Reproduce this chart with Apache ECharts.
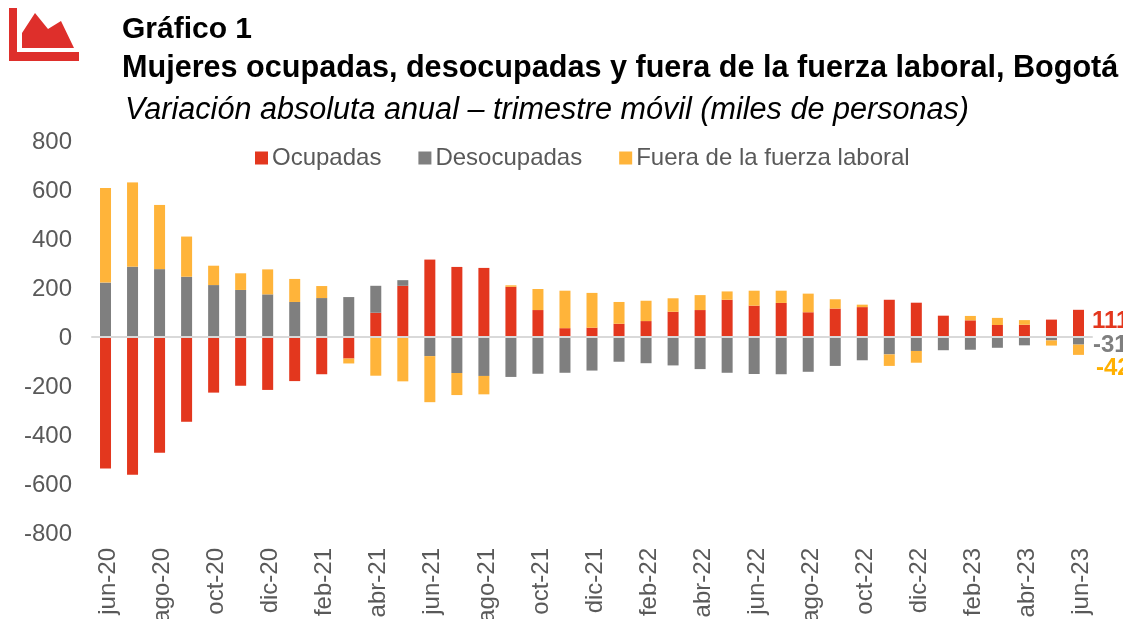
<!DOCTYPE html>
<html>
<head>
<meta charset="utf-8">
<style>
  html, body { margin: 0; padding: 0; background: #fff; overflow: hidden; }
  #chart { width: 1123px; height: 619px; }
</style>
<script src="https://cdn.jsdelivr.net/npm/echarts@6/dist/echarts.min.js"></script>
</head>
<body>
<div id="chart"></div>
<script>
const categories = [
  "jun-20","jul-20","ago-20","sep-20","oct-20","nov-20","dic-20",
  "ene-21","feb-21","mar-21","abr-21","may-21","jun-21","jul-21","ago-21","sep-21","oct-21","nov-21","dic-21",
  "ene-22","feb-22","mar-22","abr-22","may-22","jun-22","jul-22","ago-22","sep-22","oct-22","nov-22","dic-22",
  "ene-23","feb-23","mar-23","abr-23","may-23","jun-23"
]
const ocupadas = [
  -537,-562,-472,-346,-227,-199,-216,-180,-152,-88,99,209,316,286,282,205,110,36,38,
  54,65,103,110,152,128,139,101,116,122,152,140,87,68,49,50,71,111
]
const desocupadas = [
  222,287,277,246,212,192,174,143,159,163,110,23,-78,-147,-159,-163,-150,-146,-137,
  -101,-107,-116,-131,-146,-151,-152,-142,-118,-95,-71,-57,-54,-52,-44,-34,-14,-31
]
const fueraFuerza = [
  386,344,262,164,79,68,102,94,49,-20,-158,-181,-188,-90,-75,6,86,153,142,
  89,83,55,61,34,61,50,76,38,10,-47,-48,0,18,29,19,-21,-42
]
const yTicks = { min: -800, max: 800, step: 200 }

const RED = "#E3371E"
const GRAY = "#7F7F7F"
const ORANGE = "#FFB43A"
const FONT = '"Liberation Sans", Arial, sans-serif'
const TEXT = "#595959"

// solo el ultimo mes lleva etiqueta
function withEndLabel(values, color, offset) {
  return values.map((v, i) => {
    if (i !== values.length - 1) return v
    return {
      value: v,
      label: {
        show: true,
        position: "right",
        distance: 7,
        offset: offset,
        color: color,
        fontFamily: FONT,
        fontSize: 24,
        fontWeight: "bold",
      },
    }
  })
}

function barSeries(name, values, color, labelColor, offset) {
  return {
    name: name,
    type: "bar",
    stack: "total",
    barWidth: 11,
    itemStyle: { color: color },
    data: withEndLabel(values, labelColor, offset),
  }
}

const chart = echarts.init(document.getElementById("chart"), null, { renderer: "canvas" })

chart.setOption({
  animation: false,
  backgroundColor: "#fff",
  title: [
    { text: "Gráfico 1", left: 117, top: 10, textStyle: { fontFamily: FONT, fontSize: 30, fontWeight: "bold", color: "#000" } },
    { text: "Mujeres ocupadas, desocupadas y fuera de la fuerza laboral, Bogotá", left: 117, top: 48, textStyle: { fontFamily: FONT, fontSize: 30.6, fontWeight: "bold", color: "#000" } },
    { text: "Variación absoluta anual – trimestre móvil (miles de personas)", left: 120, top: 90, textStyle: { fontFamily: FONT, fontSize: 30.6, fontStyle: "italic", fontWeight: "normal", color: "#000" } },
  ],
  legend: {
    left: 250,
    top: 141,
    itemWidth: 13,
    itemHeight: 13,
    itemGap: 37,
    icon: "rect",
    textStyle: { fontFamily: FONT, fontSize: 24, color: TEXT, padding: [0, 0, 0, -1] },
    data: ["Ocupadas", "Desocupadas", "Fuera de la fuerza laboral"],
  },
  grid: { left: 92, right: 31, top: 141, bottom: 86, containLabel: false, outerBoundsMode: "none" },
  xAxis: [
    {
      type: "category",
      data: categories,
      z: 5,
      axisLine: { onZero: true, lineStyle: { color: "#D9D9D9", width: 2 } },
      axisTick: { show: false },
      axisLabel: { show: false },
    },
    {
      type: "category",
      data: categories,
      position: "bottom",
      axisLine: { show: false, onZero: false },
      axisTick: { show: false },
      axisLabel: {
        interval: 1,
        rotate: 90,
        margin: 15,
        color: TEXT,
        fontFamily: FONT,
        fontSize: 24,
        hideOverlap: false,
        verticalAlign: "top",
        lineHeight: 6,
      },
    },
  ],
  yAxis: {
    type: "value",
    min: yTicks.min,
    max: yTicks.max,
    interval: yTicks.step,
    axisLine: { show: false },
    axisTick: { show: false },
    splitLine: { show: false },
    axisLabel: { margin: 20, color: TEXT, fontFamily: FONT, fontSize: 24, verticalAlign: "top", lineHeight: 3 },
  },
  series: [
    barSeries("Ocupadas", ocupadas, RED, RED, [1, -2]),
    barSeries("Desocupadas", desocupadas, GRAY, GRAY, [2, 5]),
    barSeries("Fuera de la fuerza laboral", fueraFuerza, ORANGE, "#FFB000", [5, 19]),
  ],
  graphic: [
    // icono del grafico
    { type: "polygon", shape: { points: [[9, 8], [17, 8], [17, 52], [79, 52], [79, 61], [9, 61]] }, style: { fill: "#DE2F2B" } },
    { type: "polygon", shape: { points: [[22, 33], [35, 13], [48, 29], [61, 21], [74, 48], [22, 48]] }, style: { fill: "#DE2F2B" } },
  ],
})
</script>
</body>
</html>
